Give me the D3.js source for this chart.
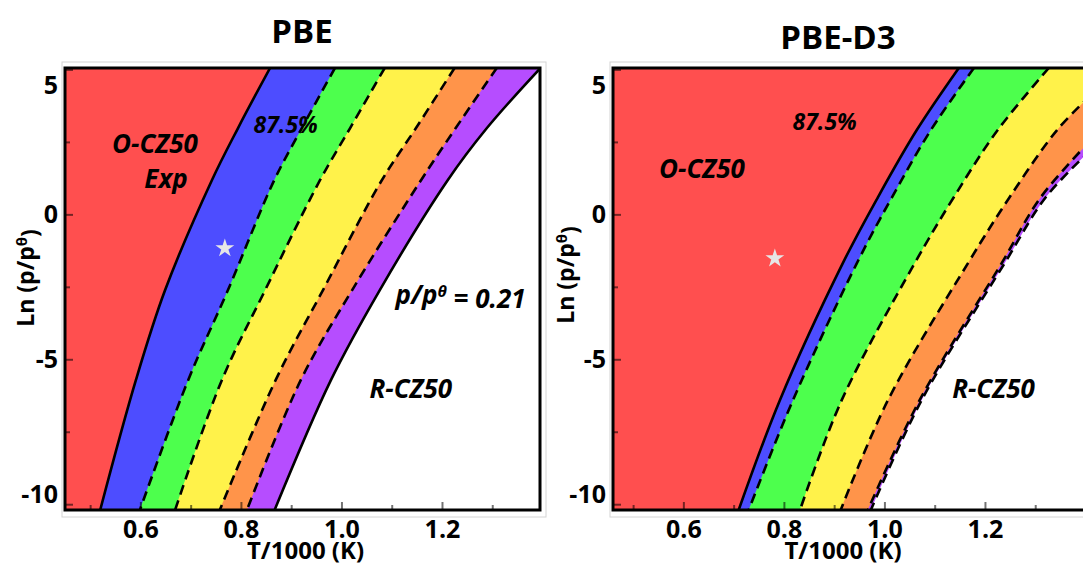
<!DOCTYPE html>
<html>
<head>
<meta charset="utf-8">
<script src="https://cdn.jsdelivr.net/npm/d3@7"></script>
<style>
  body { margin: 0; background: #fff; }
  svg text { font-family: "Open Sans", sans-serif; font-weight: 700; fill: #000; }
</style>
</head>
<body>
<svg id="chart" width="1083" height="567"></svg>
<script>
// ---- data ----
const yTicksMajor = [5, 0, -5, -10];
const yTicksMinor = [2.5, -2.5, -7.5];
const xTicksMajor = [0.6, 0.8, 1.0, 1.2];
const xTicksMinor = [0.5, 0.7, 0.9, 1.1, 1.3];
// O-CZ50, 87.5%, ..., last one is R-CZ50 (white)
const regionColors = ["#ff4f4f", "#4d4dff", "#4dff4d", "#fff24a", "#ff944a", "#b64dff", "#ffffff"];

// phase boundaries, [T/1000 (K), ln(p/p0)]  -- PBE
const pbeRedBlue      = [[0.858, 5.05], [0.794, 2.97], [0.742, 1.17], [0.649, -2.62], [0.591, -5.72], [0.520, -10.2]];
const pbeBlueGreen    = [[0.987, 5.05], [0.921, 2.97], [0.866, 1.17], [0.774, -2.62], [0.695, -5.72], [0.599, -10.2]];
const pbeGreenYellow  = [[1.086, 5.05], [1.017, 2.97], [0.957, 1.17], [0.848, -2.62], [0.762, -5.72], [0.669, -10.2]];
const pbeYellowOrange = [[1.225, 5.05], [1.148, 2.97], [1.080, 1.17], [0.963, -2.62], [0.869, -5.72], [0.758, -10.2]];
const pbeOrangePurple = [[1.309, 5.05], [1.227, 2.97], [1.158, 1.17], [1.021, -2.62], [0.919, -5.72], [0.812, -10.2]];
const pbePurpleWhite  = [[1.396, 5.05], [1.289, 2.97], [1.211, 1.17], [1.076, -2.62], [0.979, -5.72], [0.867, -10.2]];

// PBE-D3
const d3RedBlue      = [[1.148, 5.05], [1.064, 2.9], [0.987, 0.59], [0.917, -1.69], [0.792, -6.41], [0.710, -10.2]];
const d3BlueGreen    = [[1.178, 5.05], [1.092, 2.9], [1.015, 0.59], [0.945, -1.69], [0.818, -6.41], [0.730, -10.2]];
const d3GreenYellow  = [[1.327, 5.05], [1.225, 2.9], [1.138, 0.59], [1.060, -1.69], [0.915, -6.41], [0.832, -10.2]];
const d3YellowOrange = [[1.410, 4.1], [1.343, 2.9], [1.249, 0.59], [1.166, -1.69], [1.007, -6.41], [0.913, -10.2]];
const d3OrangePurple = [[1.410, 2.55], [1.311, 0.59], [1.233, -1.69], [1.070, -6.41], [0.967, -10.2]];
const d3PurpleWhite  = [[1.410, 2.21], [1.321, 0.59], [1.239, -1.69], [1.074, -6.41], [0.973, -10.2]];

// experimental point (star)
const pbeStar = [0.768, -1.17];
const d3Star = [0.782, -1.52];

const svg = d3.select("#chart");
const yTop = 68, yBot = 510;
const y = d3.scaleLinear().domain([5.05, -10.2]).range([yTop, yBot]);

function drawPanel(p) {
  const g = svg.append("g");
  const x = d3.scaleLinear().domain(p.xDomain).range(p.xRange);
  const [x0, x1] = p.xRange;

  svg.append("clipPath").attr("id", "clip-" + p.id)
    .append("rect").attr("x", x0).attr("y", yTop).attr("width", x1 - x0).attr("height", yBot - yTop);

  // light grey box round the plot
  g.append("rect")
    .attr("x", x0 - 3).attr("y", yTop - 6)
    .attr("width", x1 - x0 + 9).attr("height", yBot - yTop + 13)
    .attr("fill", "none").attr("stroke", "#d4d4d4");

  const plot = g.append("g").attr("clip-path", "url(#clip-" + p.id + ")");
  plot.append("rect")
    .attr("x", x0).attr("y", yTop).attr("width", x1 - x0).attr("height", yBot - yTop)
    .attr("fill", regionColors[0]);

  // each region = everything right of its left boundary, painted in order
  const curve = d3.curveCatmullRom.alpha(0.5);
  const area = d3.area()
    .curve(curve)
    .y(d => y(d[1]))
    .x0(d => x(d[0]))
    .x1(x1 + 10);
  p.boundaries.forEach((b, i) => {
    plot.append("path").attr("d", area(b)).attr("fill", regionColors[i + 1]);
  });

  // ticks (inward)
  const tickStyle = sel => {
    sel.select(".domain").remove();
    sel.selectAll(".tick line").attr("stroke", "#000").attr("stroke-opacity", 0.55).attr("stroke-width", 2);
  };
  g.append("g").attr("transform", "translate(0," + yBot + ")")
    .call(d3.axisBottom(x).tickValues(xTicksMinor).tickSize(-5).tickFormat(""))
    .call(tickStyle);
  g.append("g").attr("transform", "translate(0," + yBot + ")")
    .call(d3.axisBottom(x).tickValues(xTicksMajor).tickSize(-8).tickPadding(10).tickFormat(d3.format(".1f")))
    .call(tickStyle)
    .selectAll("text").style("font-size", "25px").attr("fill", "#000");
  g.append("g").attr("transform", "translate(" + x0 + ",0)")
    .call(d3.axisLeft(y).tickValues(yTicksMinor).tickSize(-5).tickFormat(""))
    .call(tickStyle);
  g.append("g").attr("transform", "translate(" + x0 + ",0)")
    .call(d3.axisLeft(y).tickValues(yTicksMajor).tickSize(-8).tickFormat(""))
    .call(tickStyle);

  // y tick labels (end ones pulled inside like the original)
  g.append("g").selectAll("text")
    .data(yTicksMajor)
    .enter()
    .append("text")
    .attr("x", x0 - 7)
    .attr("y", d => Math.min(Math.max(y(d), yTop + 17), yBot - 16))
    .attr("dy", "0.36em")
    .attr("text-anchor", "end")
    .style("font-size", "25px")
    .text(d => d);

  // boundary lines
  const line = d3.line().curve(curve).x(d => x(d[0])).y(d => y(d[1]));
  p.boundaries.forEach((b, i) => {
    plot.append("path").attr("d", line(b))
      .attr("fill", "none")
      .attr("stroke", "#000")
      .attr("stroke-width", 2.6)
      .attr("stroke-dasharray", p.dashed[i] ? "10,6" : null);
  });

  // star
  plot.append("path")
    .attr("d", d3.symbol().type(d3.symbolStar).size(110)())
    .attr("transform", "translate(" + x(p.star[0]) + "," + y(p.star[1]) + ")")
    .attr("fill", "#e6e6e6");

  // frame
  g.append("rect")
    .attr("x", x0).attr("y", yTop).attr("width", x1 - x0).attr("height", yBot - yTop)
    .attr("fill", "none").attr("stroke", "#000").attr("stroke-width", 3);

  // annotations
  p.notes.forEach(n => {
    const t = g.append("text")
      .attr("x", x(n.at[0])).attr("y", y(n.at[1]))
      .attr("dy", "0.36em")
      .attr("text-anchor", "middle")
      .style("font-style", "italic")
      .style("font-size", n.size + "px");
    if (n.sup) {
      t.append("tspan").text("p/p");
      t.append("tspan").attr("dy", "-0.45em").style("font-size", "16px").text("\u03B8");
      t.append("tspan").attr("dy", "0.45em").text(" = 0.21");
    } else {
      t.text(n.text);
    }
  });

  // titles
  svg.append("text")
    .attr("x", p.titleX).attr("y", p.titleY)
    .attr("text-anchor", "middle")
    .style("font-size", "33px")
    .text(p.title);

  svg.append("text")
    .attr("x", (x0 + Math.min(x1, 1083)) / 2 + p.xLabelShift).attr("y", 559)
    .attr("text-anchor", "middle")
    .style("font-size", "24px")
    .text("T/1000 (K)");

  const yl = svg.append("text")
    .attr("transform", "translate(" + p.yLabelX + "," + p.yLabelY + ") rotate(-90)")
    .attr("text-anchor", "middle")
    .style("font-size", "23px");
  yl.append("tspan").text("Ln (p/p");
  yl.append("tspan").attr("dy", "-0.5em").style("font-size", "15px").text("\u03B8");
  yl.append("tspan").attr("dy", "0.5em").text(")");
}

drawPanel({
  id: "pbe",
  title: "PBE", titleX: 302, titleY: 43,
  xDomain: [0.45, 1.395], xRange: [65, 540], xLabelShift: 3,
  yLabelX: 34, yLabelY: 278,
  boundaries: [pbeRedBlue, pbeBlueGreen, pbeGreenYellow, pbeYellowOrange, pbeOrangePurple, pbePurpleWhite],
  dashed: [false, true, true, true, true, false],
  star: pbeStar,
  notes: [
    { text: "O-CZ50", at: [0.629, 2.45], size: 26 },
    { text: "Exp", at: [0.651, 1.24], size: 26 },
    { text: "87.5%", at: [0.889, 3.1], size: 23 },
    { sup: true, at: [1.237, -2.76], size: 26 },
    { text: "R-CZ50", at: [1.138, -6.03], size: 26 }
  ]
});

drawPanel({
  id: "pbed3",
  title: "PBE-D3", titleX: 838, titleY: 49,
  xDomain: [0.46, 1.405], xRange: [613, 1088], xLabelShift: -5,
  yLabelX: 574, yLabelY: 275,
  boundaries: [d3RedBlue, d3BlueGreen, d3GreenYellow, d3YellowOrange, d3OrangePurple, d3PurpleWhite],
  dashed: [false, true, true, true, true, true],
  star: d3Star,
  notes: [
    { text: "87.5%", at: [0.881, 3.2], size: 23 },
    { text: "O-CZ50", at: [0.637, 1.59], size: 26 },
    { text: "R-CZ50", at: [1.217, -6.0], size: 26 }
  ]
});
</script>
</body>
</html>
